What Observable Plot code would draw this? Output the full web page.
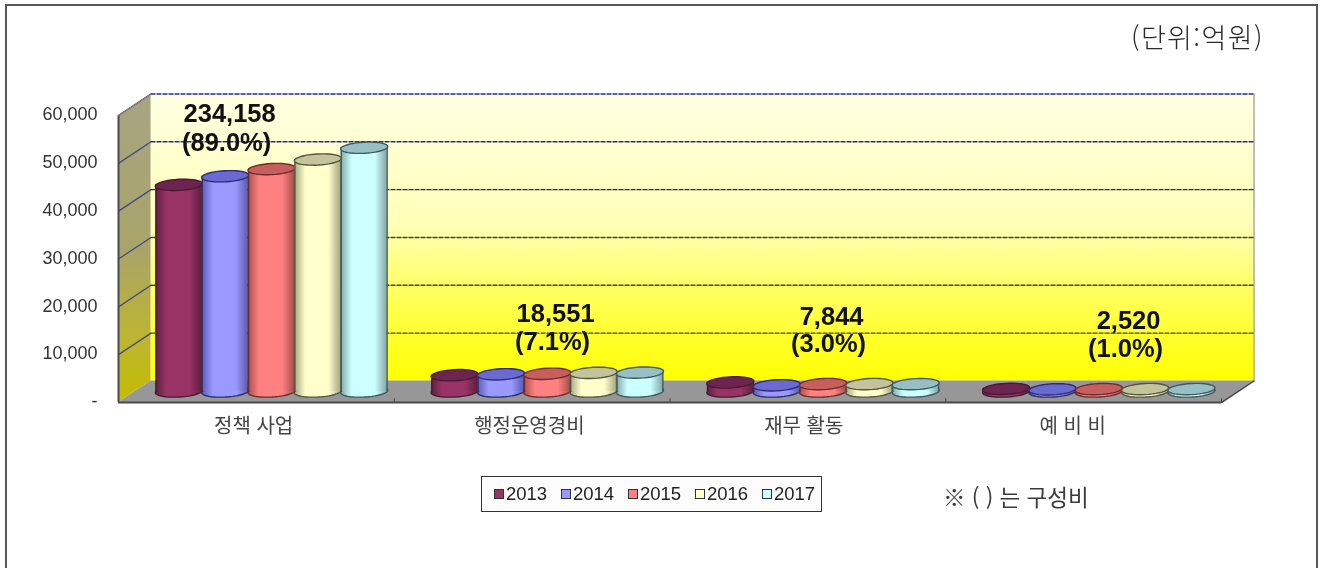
<!DOCTYPE html>
<html lang="ko">
<head>
<meta charset="utf-8">
<script src="https://cdn.jsdelivr.net/npm/d3@7"></script>
<script src="https://cdn.jsdelivr.net/npm/@observablehq/plot@0.6"></script>
<style>
  html, body { margin: 0; padding: 0; background: #fff; overflow: hidden; }
  #page { position: relative; width: 1325px; height: 568px; overflow: hidden; background: #fff;
          font-family: "Noto Sans CJK KR", "Liberation Sans", sans-serif; filter: blur(0.45px); }
  #frame { position: absolute; left: 5px; top: 4px; width: 1313px; height: 620px;
           border: 2px solid #585858; pointer-events: none; box-sizing: border-box; }
  #head { height: 60px; position: relative; }
  #unit { position: absolute; left: 1131px; top: 18px; font-size: 27px; line-height: 38px; color: #2a2a2a;
          font-family: "Noto Sans CJK KR", sans-serif; font-weight: 300; white-space: nowrap; letter-spacing: 1.4px; }
  #chart svg { display: block; }
  #foot { position: relative; height: 123px; }
  #legend { position: absolute; left: 481px; top: 31px; width: 341px; height: 36px; box-sizing: border-box;
            border: 1.5px solid #333; background: #fcfcfc; display: flex; align-items: center; padding-left: 12px;
            font: 18.5px "Liberation Sans", sans-serif; color: #222; }
  #legend .it { display: flex; align-items: center; width: 67px; flex: none; }
  #legend .sw { width: 10px; height: 10px; box-sizing: border-box; border: 1.5px solid #333; margin-right: 2px; flex: none; }
  #note { position: absolute; left: 943px; top: 36px; font-size: 22.5px; line-height: 30px; color: #3a3a3a; white-space: nowrap; }
</style>
</head>
<body>
<div id="page">
  <div id="head"><div id="unit"></div></div>
  <div id="chart"></div>
  <div id="foot"><div id="legend"></div><div id="note"></div></div>
  <div id="frame"></div>
</div>
<script>
// ---- data ----
const categories = ["정책 사업", "행정운영경비", "재무 활동", "예 비 비"];
const years = [2013, 2014, 2015, 2016, 2017];
const values2013 = [43200, 3400, 1900, 550];
const values2014 = [45000, 3600, 1300, 450];
const values2015 = [46500, 3700, 1550, 500];
const values2016 = [48500, 3900, 1550, 510];
const values2017 = [50958, 3951, 1544, 510];
const totals = ["234,158", "18,551", "7,844", "2,520"];
const shares = ["(89.0%)", "(7.1%)", "(3.0%)", "(1.0%)"];
const yTicks = [0, 10000, 20000, 30000, 40000, 50000, 60000];
const unitText = "(단위:억원)";
const noteText = "※ ( ) 는 구성비";

const series = [values2013, values2014, values2015, values2016, values2017];
const bodyColors = ["#993366", "#9999ff", "#ff8080", "#ffffcc", "#ccffff"];
const edgeColors = ["#5e1f3f", "#5c5cb0", "#a85050", "#a8a884", "#84a8a8"];
const capColors = ["#6e2450", "#6a6ad2", "#c85f5f", "#c4c49c", "#98c0c4"];
const lineColors = ["#4a1a33", "#2d2d70", "#6e2c2c", "#55553c", "#3e5a5e"];

// ---- 3D box geometry in data units ----
const DX = 0.118, DY = 4500;       // depth of the box
const BX = 0.055, BY = 2300;       // where the cylinders stand on the floor
const barW = 0.168;                // width of a cylinder
const xDom = [0, 4], yDom = [0, 60000];

// flat table for the cylinders
const rows = categories.flatMap((c, i) => years.map((yr, j) => ({
  category: c, year: yr, yi: j, value: series[j][i],
  xc: i + 0.5 + BX + (j - 2) * barW
})));

// ellipse symbol, slightly tilted like the reference
const capSymbol = {
  draw(ctx, size) {
    const rx = Math.sqrt(size / Math.PI), ry = rx * 0.235, a = -0.055;
    for (let k = 0; k <= 40; ++k) {
      const t = k / 40 * 2 * Math.PI, ex = rx * Math.cos(t), ey = ry * Math.sin(t);
      const px = ex * Math.cos(a) - ey * Math.sin(a), py = ex * Math.sin(a) + ey * Math.cos(a);
      if (k === 0) ctx.moveTo(px, py); else ctx.lineTo(px, py);
    }
    ctx.closePath();
  }
};

function defsMark() {
  const defs = d3.create("svg:defs");
  const wall = defs.append("linearGradient").attr("id", "wallG").attr("x1", 0).attr("x2", 0).attr("y1", 0).attr("y2", 1);
  [[0, "#ffffe2"], [0.45, "#ffffb8"], [0.72, "#ffff55"], [1, "#ffff00"]].forEach(([o, c]) =>
    wall.append("stop").attr("offset", o).attr("stop-color", c));
  const side = defs.append("linearGradient").attr("id", "sideG").attr("x1", 0).attr("x2", 0).attr("y1", 0).attr("y2", 1);
  [[0, "#a8a482"], [0.5, "#a8a46a"], [0.8, "#bdb630"], [1, "#c4bc00"]].forEach(([o, c]) =>
    side.append("stop").attr("offset", o).attr("stop-color", c));
  bodyColors.forEach((c, j) => {
    const g = defs.append("linearGradient").attr("id", `cyl${j}`).attr("x1", 0).attr("x2", 1).attr("y1", 0).attr("y2", 0);
    [[0, edgeColors[j]], [0.24, c], [0.74, c], [1, edgeColors[j]]].forEach(([o, col]) =>
      g.append("stop").attr("offset", o).attr("stop-color", col));
  });
  return defs.node();
}

const gridStroke = v => v >= 50000 ? "#2a2a9c" : v >= 40000 ? "#2a2a66" : "#44442a";
const marks = [
  defsMark,
  // back wall
  Plot.rect([0], {x1: DX, x2: xDom[1] + DX, y1: DY, y2: yDom[1] + DY, fill: "url(#wallG)"}),
  // left wall
  Plot.areaY([[0, 0, yDom[1]], [DX, DY, yDom[1] + DY]], {
    x: d => d[0], y1: d => d[1], y2: d => d[2], fill: "url(#sideG)"
  }),
  // floor
  Plot.areaY([[0, 0, 0], [DX, 0, DY], [xDom[1], 0, DY], [xDom[1] + DX, DY, DY]], {
    x: d => d[0], y1: d => d[1], y2: d => d[2], fill: "#979797"
  }),
  // back edge of the right side of the wall
  Plot.ruleX([xDom[1] + DX], {y1: DY, y2: yDom[1] + DY, stroke: "#a8a8a8", strokeWidth: 1.5}),
];

// grid: solid on the left wall, dashed on the back wall
yTicks.filter(v => v > 0).forEach(v => {
  marks.push(Plot.line([[0, v], [DX, v + DY]], {x: d => d[0], y: d => d[1], stroke: "#4a4a7c", strokeWidth: 1.3}));
  marks.push(Plot.line([[DX, v + DY], [xDom[1] + DX, v + DY]], {
    x: d => d[0], y: d => d[1], stroke: gridStroke(v), strokeWidth: 1.4, strokeDasharray: "4,2"
  }));
});

// frame lines of the box
marks.push(
  Plot.ruleY([0], {x1: 0, x2: xDom[1], stroke: "#4a4a4a", strokeWidth: 2}),
  Plot.ruleX([0], {y1: 0, y2: yDom[1], stroke: "#4a4a4a", strokeWidth: 2}),
  Plot.line([[xDom[1], 0], [xDom[1] + DX, DY]], {x: d => d[0], y: d => d[1], stroke: "#4a4a4a", strokeWidth: 1.5}),
  Plot.line([[0, yDom[1]], [DX, yDom[1] + DY]], {x: d => d[0], y: d => d[1], stroke: "#8a8a70", strokeWidth: 1}),
  Plot.ruleX([1, 2, 3, 4], {y1: 0, y2: 800, stroke: "#4a4a4a", strokeWidth: 1})
);

// cylinders, drawn year by year so that each overlaps its left neighbour
years.forEach((yr, j) => {
  const d = rows.filter(r => r.yi === j);
  const opts = {x: "xc", symbol: capSymbol, r: 23.6, strokeWidth: 1.4, stroke: lineColors[j]};
  marks.push(
    Plot.dot(d, {...opts, y: () => BY, fill: `url(#cyl${j})`}),
    Plot.rect(d, {x1: r => r.xc - barW / 2 * 0.99, x2: r => r.xc + barW / 2 * 0.99, y1: () => BY, y2: r => BY + r.value, fill: `url(#cyl${j})`}),
    Plot.ruleX(d, {x: r => r.xc - barW / 2 * 0.99, y1: () => BY, y2: r => BY + r.value, stroke: lineColors[j], strokeWidth: 1.4}),
    Plot.ruleX(d, {x: r => r.xc + barW / 2 * 0.99, y1: () => BY, y2: r => BY + r.value, stroke: lineColors[j], strokeWidth: 1.4}),
    Plot.dot(d, {...opts, y: r => BY + r.value, fill: capColors[j]})
  );
});

// value annotations
const labelX = [0.403, 1.585, 2.586, 3.663];
const totalY = [60300, 18600, 18000, 17100];
const shareY = [54200, 12750, 12350, 11250];
const labelRows = categories.map((c, i) => ({x: labelX[i], total: totals[i], share: shares[i], ty: totalY[i], sy: shareY[i]}));
const labelStyle = {fontFamily: "Liberation Sans, sans-serif", fontWeight: "bold", fontSize: 25.5, fill: "#111"};
marks.push(
  Plot.text(labelRows, {x: "x", y: "ty", text: "total", ...labelStyle}),
  Plot.text(labelRows, {x: d => d.x - 0.011, y: "sy", text: "share", ...labelStyle})
);

// axes
marks.push(
  Plot.axisY({
    ticks: yTicks, tickSize: 0, tickPadding: 21, label: null, fontSize: 18, dy: -1,
    fontFamily: "Liberation Sans, sans-serif", fill: "#333",
    tickFormat: v => v === 0 ? "-" : d3.format(",")(v)
  }),
  Plot.axisX({
    ticks: [0.49, 1.49, 2.485, 3.46], tickSize: 0, tickPadding: 16, label: null, fontSize: 20,
    fontFamily: "Noto Sans CJK KR, sans-serif", fill: "#444",
    tickFormat: v => categories[Math.floor(v)]
  })
);

const plot = Plot.plot({
  width: 1325, height: 385,
  marginLeft: 118, marginRight: 104, marginTop: 55, marginBottom: 43,
  x: {domain: xDom, axis: null},
  y: {domain: yDom, axis: null},
  style: {background: "transparent", overflow: "visible"},
  marks
});
document.getElementById("chart").append(plot);

document.getElementById("unit").textContent = unitText;
document.getElementById("note").textContent = noteText;
const legend = d3.select("#legend");
const items = legend.selectAll(".it").data(years).join("div").attr("class", "it");
items.append("div").attr("class", "sw").style("background", (_, j) => bodyColors[j]);
items.append("span").text(d => d);
</script>
</body>
</html>
